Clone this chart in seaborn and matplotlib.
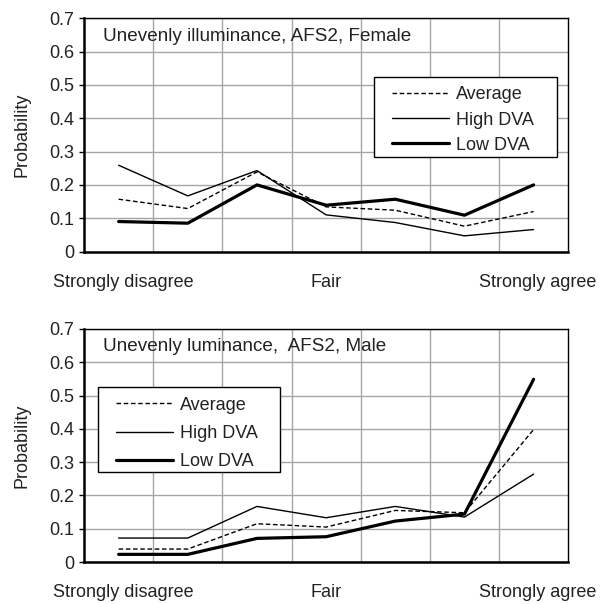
import matplotlib
matplotlib.use("Agg")
import matplotlib.pyplot as plt
from matplotlib.patches import Rectangle
from matplotlib.transforms import ScaledTranslation
import seaborn as sns
import pandas as pd
import numpy as np

categories = ["Strongly disagree", "", "", "Fair", "", "", "Strongly agree"]
series_names = ["Average", "High DVA", "Low DVA"]

female_average = [0.157, 0.129, 0.239, 0.134, 0.124, 0.076, 0.120]
female_high = [0.259, 0.167, 0.243, 0.110, 0.087, 0.047, 0.066]
female_low = [0.090, 0.085, 0.200, 0.139, 0.157, 0.109, 0.200]

male_average = [0.039, 0.039, 0.115, 0.105, 0.155, 0.148, 0.398]
male_high = [0.072, 0.072, 0.167, 0.133, 0.167, 0.135, 0.264]
male_low = [0.023, 0.023, 0.071, 0.076, 0.123, 0.144, 0.549]

yticks = [0, 0.1, 0.2, 0.3, 0.4, 0.5, 0.6, 0.7]
ytick_labels = ["0", "0.1", "0.2", "0.3", "0.4", "0.5", "0.6", "0.7"]

titles = ["Unevenly illuminance, AFS2, Female", "Unevenly luminance,  AFS2, Male"]

sns.set_style("white")
plt.rcParams["font.family"] = ["Liberation Sans", "DejaVu Sans"]
plt.rcParams["font.size"] = 13
TXT = "#222222"

styles = {
    "Average": dict(color="black", lw=1.0, ls=(0, (3.3, 1.9))),
    "High DVA": dict(color="black", lw=1.0, ls="-"),
    "Low DVA": dict(color="black", lw=2.3, ls="-"),
}

fig = plt.figure(figsize=(6.09, 6.04), dpi=100)
ax_top = fig.add_axes([0.138, 0.5836, 0.795, 0.386])
ax_bot = fig.add_axes([0.138, 0.0695, 0.795, 0.3858])

panels = [
    (ax_top, [female_average, female_high, female_low], titles[0],
     (0.599, 0.406, 0.378, 0.343), (0.636, 0.709), 0.46),
    (ax_bot, [male_average, male_high, male_low], titles[1],
     (0.029, 0.386, 0.376, 0.365), (0.066, 0.709), 0.62),
]

x = np.arange(len(categories))
for ax, vals, title, rect, legpos, lspace in panels:
    for name, v in zip(series_names, vals):
        df = pd.DataFrame({"x": x, "y": v})
        st = styles[name]
        sns.lineplot(data=df, x="x", y="y", ax=ax, color=st["color"],
                     linewidth=st["lw"], linestyle=st["ls"], label=name)
    ax.set_xlim(-0.5, len(categories) - 0.5)
    ax.set_ylim(0, 0.7)
    ax.set_yticks(yticks)
    ax.set_yticklabels(ytick_labels)
    ax.set_xticks(x)
    ax.set_xticklabels(categories)
    ax.set_xticks(np.arange(0.5, len(categories) - 1, 1.0), minor=True)
    ax.grid(True, which="minor", axis="x", color="#a6a6a6", lw=1.0)
    ax.grid(True, which="major", axis="y", color="#a6a6a6", lw=1.0)
    ax.grid(False, which="major", axis="x")
    ax.set_axisbelow(True)
    ax.tick_params(axis="x", which="both", length=0, pad=16, labelsize=13, labelcolor=TXT)
    ax.tick_params(axis="y", which="major", length=3.6, width=1, color="black",
                   direction="out", left=True, labelsize=13, pad=3.6, labelcolor=TXT)
    labels = ax.get_xticklabels()
    for i in (0, len(labels) - 1):
        labels[i].set_transform(labels[i].get_transform() +
                                ScaledTranslation(4.5 / 100, 0, fig.dpi_scale_trans))
    ax.set_xlabel("")
    ax.set_ylabel("Probability", fontsize=13, color=TXT)
    ax.yaxis.set_label_coords(-0.11, 0.5)
    for side in ["left", "bottom"]:
        ax.spines[side].set_linewidth(1.8)
        ax.spines[side].set_color("black")
    for side in ["top", "right"]:
        ax.spines[side].set_linewidth(1.0)
        ax.spines[side].set_color("black")
    ax.text(0.039, 0.924, title, transform=ax.transAxes, ha="left", va="center",
            fontsize=13.6, color=TXT)
    ax.add_patch(Rectangle((rect[0], rect[1]), rect[2], rect[3], transform=ax.transAxes,
                           facecolor="white", edgecolor="black", lw=1.0, zorder=5))
    leg = ax.legend(loc="upper left", bbox_to_anchor=legpos, frameon=False,
                    handlelength=3.15, handletextpad=0.4, labelspacing=lspace,
                    borderpad=0, borderaxespad=0, fontsize=13)
    leg.set_zorder(6)
    for t in leg.get_texts():
        t.set_color(TXT)

fig.savefig("out.png", dpi=100)
